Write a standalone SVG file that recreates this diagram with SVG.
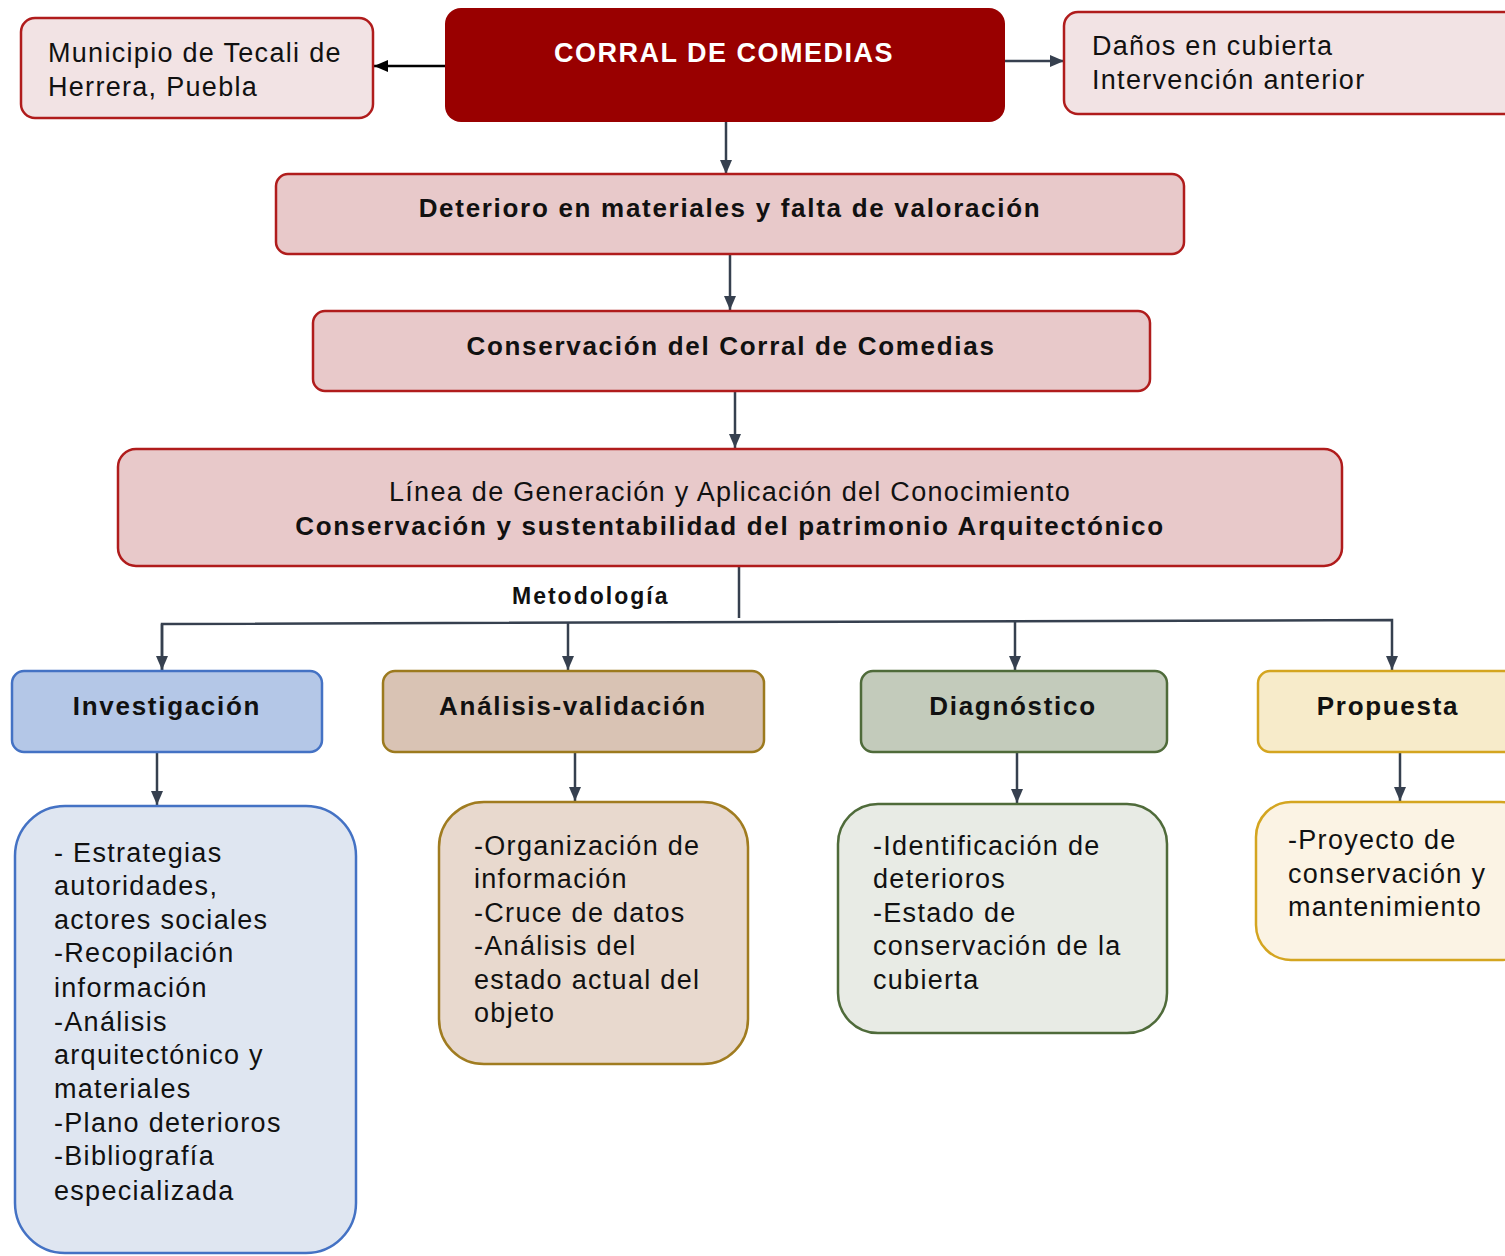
<svg xmlns="http://www.w3.org/2000/svg" width="1505" height="1256" viewBox="0 0 1505 1256">
<defs>
<marker id="ah" viewBox="0 0 14 12" refX="14" refY="6" markerWidth="14" markerHeight="12" orient="auto" markerUnits="userSpaceOnUse">
<path d="M0,0 L14,6 L0,12 z" fill="#36404f"/>
</marker>
<marker id="ahb" viewBox="0 0 14 12" refX="14" refY="6" markerWidth="14" markerHeight="12" orient="auto" markerUnits="userSpaceOnUse">
<path d="M0,0 L14,6 L0,12 z" fill="#000"/>
</marker>
<style>
text{font-family:"Liberation Sans",Arial,sans-serif;fill:#111;}
.n{font-size:27px;letter-spacing:1.3px;}
.b{font-size:26px;font-weight:bold;letter-spacing:1.7px;}
.red{fill:#f2e3e4;stroke:#b01c1c;stroke-width:2.5;}
.red2{fill:#e8c9ca;stroke:#b01c1c;stroke-width:2.5;}
.c{stroke:#36404f;stroke-width:2.5;fill:none;}
</style>
</defs>
<g id="connectors">
<line x1="445" y1="66" x2="374" y2="66" stroke="#000" stroke-width="2.5" marker-end="url(#ahb)"/>
<line class="c" x1="1005" y1="61" x2="1064" y2="61" marker-end="url(#ah)"/>
<line class="c" x1="726" y1="122" x2="726" y2="174" marker-end="url(#ah)"/>
<line class="c" x1="730" y1="254" x2="730" y2="310" marker-end="url(#ah)"/>
<line class="c" x1="735" y1="391" x2="735" y2="448" marker-end="url(#ah)"/>
<line class="c" x1="739" y1="566" x2="739" y2="618"/>
<polyline class="c" points="162,670 162,624 1392,620 1392,670" marker-end="url(#ah)"/>
<line class="c" x1="162" y1="624" x2="162" y2="670" marker-end="url(#ah)"/>
<line class="c" x1="568" y1="623" x2="568" y2="670" marker-end="url(#ah)"/>
<line class="c" x1="1015" y1="621" x2="1015" y2="670" marker-end="url(#ah)"/>
<line class="c" x1="157" y1="753" x2="157" y2="805" marker-end="url(#ah)"/>
<line class="c" x1="575" y1="753" x2="575" y2="801" marker-end="url(#ah)"/>
<line class="c" x1="1017" y1="753" x2="1017" y2="803" marker-end="url(#ah)"/>
<line class="c" x1="1400" y1="753" x2="1400" y2="801" marker-end="url(#ah)"/>
</g>
<g id="corral">
<rect x="445" y="8" width="560" height="114" rx="16" fill="#990000"/>
<text x="724" y="62" text-anchor="middle" style="fill:#fff;font-size:27px;font-weight:bold;letter-spacing:1.5px">CORRAL DE COMEDIAS</text>
</g>
<g id="municipio">
<rect x="21" y="18" width="352" height="100" rx="14" class="red"/>
<text x="48" y="62" class="n">Municipio de Tecali de</text>
<text x="48" y="96" class="n">Herrera, Puebla</text>
</g>
<g id="danos">
<rect x="1064" y="12" width="460" height="102" rx="14" class="red"/>
<text x="1092" y="55" class="n">Daños en cubierta</text>
<text x="1092" y="89" class="n">Intervención anterior</text>
</g>
<g id="deterioro">
<rect x="276" y="174" width="908" height="80" rx="12" class="red2"/>
<text x="730" y="217" text-anchor="middle" class="b">Deterioro en materiales y falta de valoración</text>
</g>
<g id="conservacion">
<rect x="313" y="311" width="837" height="80" rx="12" class="red2"/>
<text x="731" y="355" text-anchor="middle" class="b">Conservación del Corral de Comedias</text>
</g>
<g id="lgac">
<rect x="118" y="449" width="1224" height="117" rx="18" class="red2"/>
<text x="730" y="501" text-anchor="middle" class="n">Línea de Generación y Aplicación del Conocimiento</text>
<text x="730" y="535" text-anchor="middle" class="b">Conservación y sustentabilidad del patrimonio Arquitectónico</text>
</g>
<g id="metodologia-label">
<text x="512" y="604" style="font-size:23px;font-weight:bold;letter-spacing:2px">Metodología</text>
</g>
<g id="investigacion">
<rect x="12" y="671" width="310" height="81" rx="12" fill="#b4c7e7" stroke="#4472c4" stroke-width="2.5"/>
<text x="167" y="715" text-anchor="middle" class="b">Investigación</text>
</g>
<g id="analisis">
<rect x="383" y="671" width="381" height="81" rx="12" fill="#d9c3b4" stroke="#9c7a1e" stroke-width="2.5"/>
<text x="573" y="715" text-anchor="middle" class="b">Análisis-validación</text>
</g>
<g id="diagnostico">
<rect x="861" y="671" width="306" height="81" rx="12" fill="#c3cbbb" stroke="#4f6b3a" stroke-width="2.5"/>
<text x="1013" y="715" text-anchor="middle" class="b">Diagnóstico</text>
</g>
<g id="propuesta">
<rect x="1258" y="671" width="270" height="81" rx="12" fill="#f7ebca" stroke="#d4a520" stroke-width="2.5"/>
<text x="1388" y="715" text-anchor="middle" class="b">Propuesta</text>
</g>
<g id="inv-detalle">
<rect x="15" y="806" width="341" height="447" rx="50" fill="#dfe6f1" stroke="#4472c4" stroke-width="2.5"/>
<text class="n">
<tspan x="54" y="862">- Estrategias</tspan>
<tspan x="54" y="895">autoridades,</tspan>
<tspan x="54" y="929">actores sociales</tspan>
<tspan x="54" y="962">-Recopilación</tspan>
<tspan x="54" y="997">información</tspan>
<tspan x="54" y="1031">-Análisis</tspan>
<tspan x="54" y="1064">arquitectónico y</tspan>
<tspan x="54" y="1098">materiales</tspan>
<tspan x="54" y="1132">-Plano deterioros</tspan>
<tspan x="54" y="1165">-Bibliografía</tspan>
<tspan x="54" y="1200">especializada</tspan>
</text>
</g>
<g id="ana-detalle">
<rect x="439" y="802" width="309" height="262" rx="45" fill="#e8d9ce" stroke="#a07c20" stroke-width="2.5"/>
<text class="n">
<tspan x="474" y="855">-Organización de</tspan>
<tspan x="474" y="888">información</tspan>
<tspan x="474" y="922">-Cruce de datos</tspan>
<tspan x="474" y="955">-Análisis del</tspan>
<tspan x="474" y="989">estado actual del</tspan>
<tspan x="474" y="1022">objeto</tspan>
</text>
</g>
<g id="diag-detalle">
<rect x="838" y="804" width="329" height="229" rx="40" fill="#e8ebe5" stroke="#4f6b3a" stroke-width="2.5"/>
<text class="n">
<tspan x="873" y="855">-Identificación de</tspan>
<tspan x="873" y="888">deterioros</tspan>
<tspan x="873" y="922">-Estado de</tspan>
<tspan x="873" y="955">conservación de la</tspan>
<tspan x="873" y="989">cubierta</tspan>
</text>
</g>
<g id="prop-detalle">
<rect x="1256" y="802" width="280" height="158" rx="35" fill="#fbf3e4" stroke="#d4a520" stroke-width="2.5"/>
<text class="n">
<tspan x="1288" y="849">-Proyecto de</tspan>
<tspan x="1288" y="883">conservación y</tspan>
<tspan x="1288" y="916">mantenimiento</tspan>
</text>
</g>
</svg>
